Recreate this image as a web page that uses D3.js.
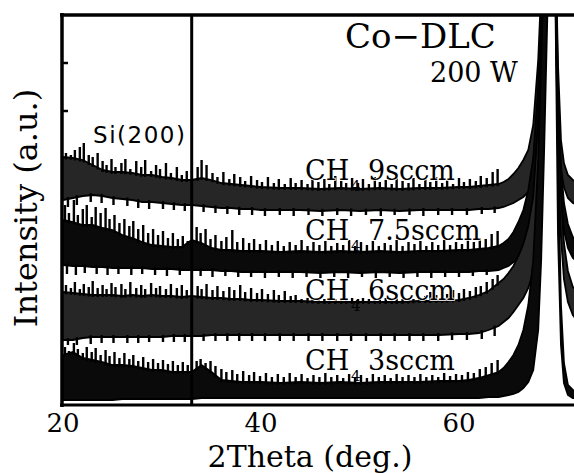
<!DOCTYPE html>
<html><head><meta charset="utf-8">
<script src="https://cdn.jsdelivr.net/npm/d3@7"></script>
<style>body{margin:0;background:#fff}svg{display:block}</style>
</head><body>
<svg id="c" width="574" height="473"></svg>
<script>
// 2Theta sample positions (deg.)
const angles = [20,21,22,23,24,25,26,27,28,29,30,31,32,33,34,35,36,37,38,39,40,
  42,44,46,48,50,52,54,56,58,60, 61,62,63,
  64,64.5,65,65.5,66,66.5,67,67.5,68,68.3,68.6, 69.2,
  69.7,70.0,70.3,70.6,71.0,71.5,72.5,74,77,80];

const sccmLabels = ["9sccm", "7.5sccm", "6sccm", "3sccm"];

// Noise-band envelopes (offset intensity, a.u.)
const upper9 = [248,247,245,240,235,233,233,232,230,230,228,227,225,225,227,225,222,221,220,219,218,
  217,217,216,217,216,217,216,217,217,218, 218,219,220,
  221,223,226,231,237,245,255,280,345,415,465, 525,
  480,340,265,242,230,225,220,217,216,216];
const lower9 = [205,207,209,210,209,207,206,205,203,203,202,201,200,200,199,198,197,197,196,196,195,
  195,195,194,195,194,195,194,195,195,195, 195,196,196,
  197,198,200,202,205,208,213,222,245,295,385, 505,
  440,280,235,218,207,202,198,196,195,194];

const upper75 = [185,183,180,180,177,175,170,167,163,160,159,158,158,165,162,157,155,155,154,154,154,
  153,154,153,154,153,154,153,154,154,155, 155,156,157,
  159,162,166,173,183,195,215,247,320,390,455, 525,
  480,320,240,202,181,168,158,155,154,154];
const lower75 = [140,139,139,138,138,137,137,137,137,136,136,136,135,135,135,135,134,134,133,133,133,
  133,133,132,133,132,133,132,133,133,133, 133,134,134,
  135,137,139,143,147,153,160,172,200,245,345, 505,
  440,260,205,175,157,147,139,135,133,133];

const upper6 = [113,112,111,110,110,110,109,110,109,110,109,109,108,109,108,107,107,106,106,105,105,
  104,104,103,103,103,103,103,104,104,105, 107,110,114,
  122,126,132,139,149,161,179,209,285,365,445, 525,
  480,300,210,162,134,118,109,104,103,103];
const lower6 = [65,65,67,68,68,68,68,68,68,68,68,69,69,69,69,70,70,70,70,70,70,
  70,70,70,70,70,70,70,70,70,71, 71,72,75,
  79,83,87,93,100,107,117,133,165,215,305, 505,
  440,240,168,126,103,90,77,71,70,70];

const upper3 = [50,53,47,45,43,40,40,39,37,35,35,33,33,33,40,33,25,24,23,23,23,
  22,23,22,23,22,23,23,23,24,24, 25,27,30,
  33,37,43,50,60,75,100,145,245,345,445, 525,
  480,250,100,42,20,15,12,11,10,10];
const lower3 = [5,5,5,5,5,5,6,6,6,6,6,6,6,6,7,7,7,7,7,7,7,
  7,7,7,7,7,7,7,7,7,7, 7,7,8,
  8,9,10,11,13,17,23,35,75,145,255, 505,
  440,170,60,22,10,7,6,5,5,5];

// Noise spikes above the band (2Theta, top intensity)
const spikeAnglesA = [20.3,20.8,21.2,21.7,22.1,22.6,23.0,23.5,24.0,24.4,24.9,25.3,25.9,26.3,26.8,27.4,27.9,28.3,28.9,29.4,29.8,30.4,30.9,31.5,32.0,32.5,33.6,34.0,34.5,35.1,35.6,36.2,36.8,37.3,37.9,38.4,39.0,39.6,40.1,40.7,41.3,41.8,42.4,43.0,43.5,44.1,44.7,45.2,45.8,46.4,46.9,47.5,48.1,48.6,49.2,49.8,50.3,50.9,51.5,52.0,52.6,53.2,53.7,54.3,54.9,55.4,56.0,56.6,57.1,57.7,58.3,58.8,59.4,60.0,60.5,61.1,61.7,62.2,62.8,63.4,63.9];
const spikeAnglesB = [20.2,20.6,21.1,21.5,22.0,22.4,22.9,23.3,23.8,24.3,24.7,25.2,25.7,26.2,26.7,27.1,27.6,28.1,28.6,29.1,29.6,30.1,30.6,31.1,31.6,32.1,32.6,33.5,33.9,34.4,34.9,35.4,36.0,36.5,37.1,37.6,38.2,38.8,39.3,39.9,40.5,41.1,41.7,42.3,42.9,43.5,44.1,44.7,45.3,45.9,46.5,47.1,47.7,48.3,48.9,49.5,50.1,50.7,51.3,51.9,52.5,53.1,53.7,54.3,54.9,55.5,56.1,56.7,57.3,57.9,58.5,59.1,59.7,60.3,60.9,61.5,62.1,62.7,63.3,63.9];

const spikeTops9 = [252,250,255,258,262,250,248,252,244,240,246,238,242,246,236,244,238,245,234,240,236,242,232,238,230,234,238,245,240,232,228,233,226,231,228,224,229,225,223,228,222,226,221,227,222,225,221,228,223,226,221,229,224,222,227,222,226,221,228,223,225,221,229,224,222,227,221,226,223,228,222,225,221,227,223,226,224,229,227,233,236];
const spikeTops75 = [200,192,205,190,196,200,188,198,192,197,186,190,182,186,179,184,176,180,172,176,170,174,167,172,166,169,164,178,172,176,166,170,164,168,175,163,167,162,166,161,165,160,164,159,163,160,165,159,163,160,164,159,162,160,165,159,163,160,164,159,162,160,165,159,163,161,164,159,163,160,165,160,163,161,165,163,167,166,171,174];
const spikeTops6 = [120,117,123,116,121,118,124,117,120,116,122,118,121,116,123,117,120,116,122,117,119,116,121,117,120,115,119,116,121,115,119,114,118,115,120,113,117,112,116,111,115,110,114,109,110,106,107,106,107,106,107,106,107,106,107,106,107,106,107,106,107,106,107,106,107,106,108,109,113,110,114,111,115,112,116,114,118,119,123,126,130];
const spikeTops3 = [58,54,62,56,52,58,53,57,50,55,49,53,47,52,46,50,44,48,43,46,42,45,41,44,40,43,40,44,46,42,44,39,36,33,35,31,34,30,33,29,32,28,31,28,32,28,31,27,30,28,32,28,30,27,31,28,30,27,31,28,30,27,31,28,30,28,31,28,30,28,32,29,31,30,33,32,36,38,42,45];

// Noise dips below the band (2Theta, bottom intensity)
const dipAnglesA = [20.5,21.4,22.8,23.9,25.1,26.5,27.6,28.7,30.1,31.2,32.3,34.2,35.4,36.6,37.8,39.1,40.4,41.9,43.3,44.8,46.2,47.7,49.1,50.6,52.1,53.5,55.0,56.4,57.9,59.3,60.8,62.3,63.6];
const dipAnglesB = [20.4,21.3,22.2,23.4,24.5,25.6,26.9,28.0,29.3,30.5,31.8,33.9,35.1,36.4,37.7,39.0,40.4,41.8,43.2,44.6,46.0,47.4,48.8,50.2,51.6,53.0,54.4,55.8,57.2,58.6,60.0,61.4,62.8];
const dipBottoms9 = [198,200,203,202,200,199,197,196,196,195,194,193,192,191,190,190,189,190,189,190,189,190,189,190,189,190,190,189,190,190,190,191,192];
const dipBottoms75 = [131,130,132,131,130,131,130,131,130,129,130,129,128,129,128,128,127,128,127,128,127,128,127,128,127,128,127,128,127,128,128,129,130];
const dipBottoms6 = [60,60,61,62,62,62,62,63,63,63,63,64,64,64,64,64,64,64,64,64,64,64,64,64,64,64,64,64,64,65,65,66,69];

const xTickValues = [20, 40, 60];
const yTickValues = [294, 342];
const siPeakAngle = 33.0;

const series = [
  {label: sccmLabels[0], upper: upper9, lower: lower9, sa: spikeAnglesA, st: spikeTops9, da: dipAnglesA, db: dipBottoms9, speckle: true, base: 180},
  {label: sccmLabels[1], upper: upper75, lower: lower75, sa: spikeAnglesB, st: spikeTops75, da: dipAnglesB, db: dipBottoms75, speckle: false, base: 240},
  {label: sccmLabels[2], upper: upper6, lower: lower6, sa: spikeAnglesA, st: spikeTops6, da: dipAnglesA, db: dipBottoms6, speckle: true, base: 300},
  {label: sccmLabels[3], upper: upper3, lower: lower3, sa: spikeAnglesB, st: spikeTops3, da: [], db: [], speckle: false, base: 370}
];

const svg = d3.select("#c");
const x = d3.scaleLinear().domain([20, 80]).range([63, 657]);
const y = d3.scaleLinear().domain([0, 391]).range([405, 14]);

const defs = svg.append("defs");
defs.append("clipPath").attr("id", "plotclip")
  .append("rect").attr("x", 63).attr("y", 15).attr("width", 600).attr("height", 390);

const plot = svg.append("g").attr("clip-path", "url(#plotclip)");

series.forEach(s => {
  const pts = angles.map((a, i) => ({a, u: s.upper[i], l: s.lower[i]}));
  plot.append("path").datum(pts)
    .attr("d", d3.area().x(d => x(d.a)).y0(d => y(d.l)).y1(d => y(d.u)))
    .attr("fill", s.speckle ? "#262626" : "#0a0a0a");
  ["u", "l"].forEach(k => {
    plot.append("path").datum(pts)
      .attr("d", d3.line().x(d => x(d.a)).y(d => y(d[k])))
      .attr("fill", "none").attr("stroke", "#000").attr("stroke-width", 1.8);
  });
  const upInterp = d3.scaleLinear().domain(angles).range(s.upper);
  const loInterp = d3.scaleLinear().domain(angles).range(s.lower);
  const nS = Math.min(s.sa.length, s.st.length);
  plot.selectAll(null).data(d3.range(nS).map(i => ({a: s.sa[i], t: s.st[i]}))).join("rect")
    .attr("x", d => x(d.a) - 1.2)
    .attr("y", d => y(d.t))
    .attr("width", 2.4)
    .attr("height", d => Math.max(0, y(upInterp(d.a)) - y(d.t) + 2))
    .attr("fill", "#000");
  const nD = Math.min(s.da.length, s.db.length);
  plot.selectAll(null).data(d3.range(nD).map(i => ({a: s.da[i], b: s.db[i]}))).join("rect")
    .attr("x", d => x(d.a) - 1.2)
    .attr("y", d => y(loInterp(d.a)) - 2)
    .attr("width", 2.4)
    .attr("height", d => Math.max(0, y(d.b) - y(loInterp(d.a)) + 2))
    .attr("fill", "#000");
});

// Si(200) reference line
svg.append("line").attr("x1", x(siPeakAngle)).attr("x2", x(siPeakAngle))
  .attr("y1", 15).attr("y2", 405).attr("stroke", "#000").attr("stroke-width", 3);

// frame
svg.append("line").attr("x1", 62).attr("x2", 62).attr("y1", 13).attr("y2", 407)
  .attr("stroke", "#000").attr("stroke-width", 3.5);
svg.append("line").attr("x1", 60).attr("x2", 574).attr("y1", 15).attr("y2", 15)
  .attr("stroke", "#000").attr("stroke-width", 3.5);
svg.append("line").attr("x1", 60).attr("x2", 574).attr("y1", 405).attr("y2", 405)
  .attr("stroke", "#000").attr("stroke-width", 3);
yTickValues.forEach(v => {
  svg.append("line").attr("x1", 62).attr("x2", 68).attr("y1", y(v)).attr("y2", y(v))
    .attr("stroke", "#000").attr("stroke-width", 2.5);
});

const serif = "DejaVu Serif, Liberation Serif, serif";
// x tick labels
svg.selectAll(null).data(xTickValues).join("text")
  .attr("x", d => x(d)).attr("y", 432).attr("text-anchor", "middle")
  .attr("font-family", serif).attr("font-size", 26).attr("fill", "#000").text(d => d);
// axis titles
svg.append("text").attr("x", 310).attr("y", 467).attr("text-anchor", "middle")
  .attr("font-family", serif).attr("font-size", 30).attr("fill", "#000").text("2Theta (deg.)");
svg.append("text").attr("transform", "translate(37,208) rotate(-90)").attr("text-anchor", "middle")
  .attr("font-family", serif).attr("font-size", 32).attr("fill", "#000").text("Intensity (a.u.)");

// annotations
svg.append("text").attr("x", 345).attr("y", 48).attr("font-family", serif).attr("font-size", 34)
  .attr("fill", "#000").text("Co\u2212DLC");
svg.append("text").attr("x", 430).attr("y", 82).attr("font-family", serif).attr("font-size", 27)
  .attr("fill", "#000").text("200 W");
svg.append("text").attr("x", 93).attr("y", 143).attr("font-family", "DejaVu Sans, sans-serif")
  .attr("font-size", 23).attr("textLength", 92).attr("lengthAdjust", "spacing")
  .attr("fill", "#000").text("Si(200)");

series.forEach(s => {
  const g = svg.append("g").attr("font-family", serif).attr("fill", "#000");
  g.append("text").attr("x", 305).attr("y", s.base).attr("font-size", 27)
    .attr("stroke", "#fff").attr("stroke-width", 1.5).attr("paint-order", "stroke").text("CH");
  g.append("text").attr("x", 351).attr("y", s.base + 11).attr("font-size", 15).text("4");
  g.append("text").attr("x", 368).attr("y", s.base).attr("font-size", 27)
    .attr("stroke", "#fff").attr("stroke-width", 1.5).attr("paint-order", "stroke").text(s.label);
});
</script>
</body></html>
